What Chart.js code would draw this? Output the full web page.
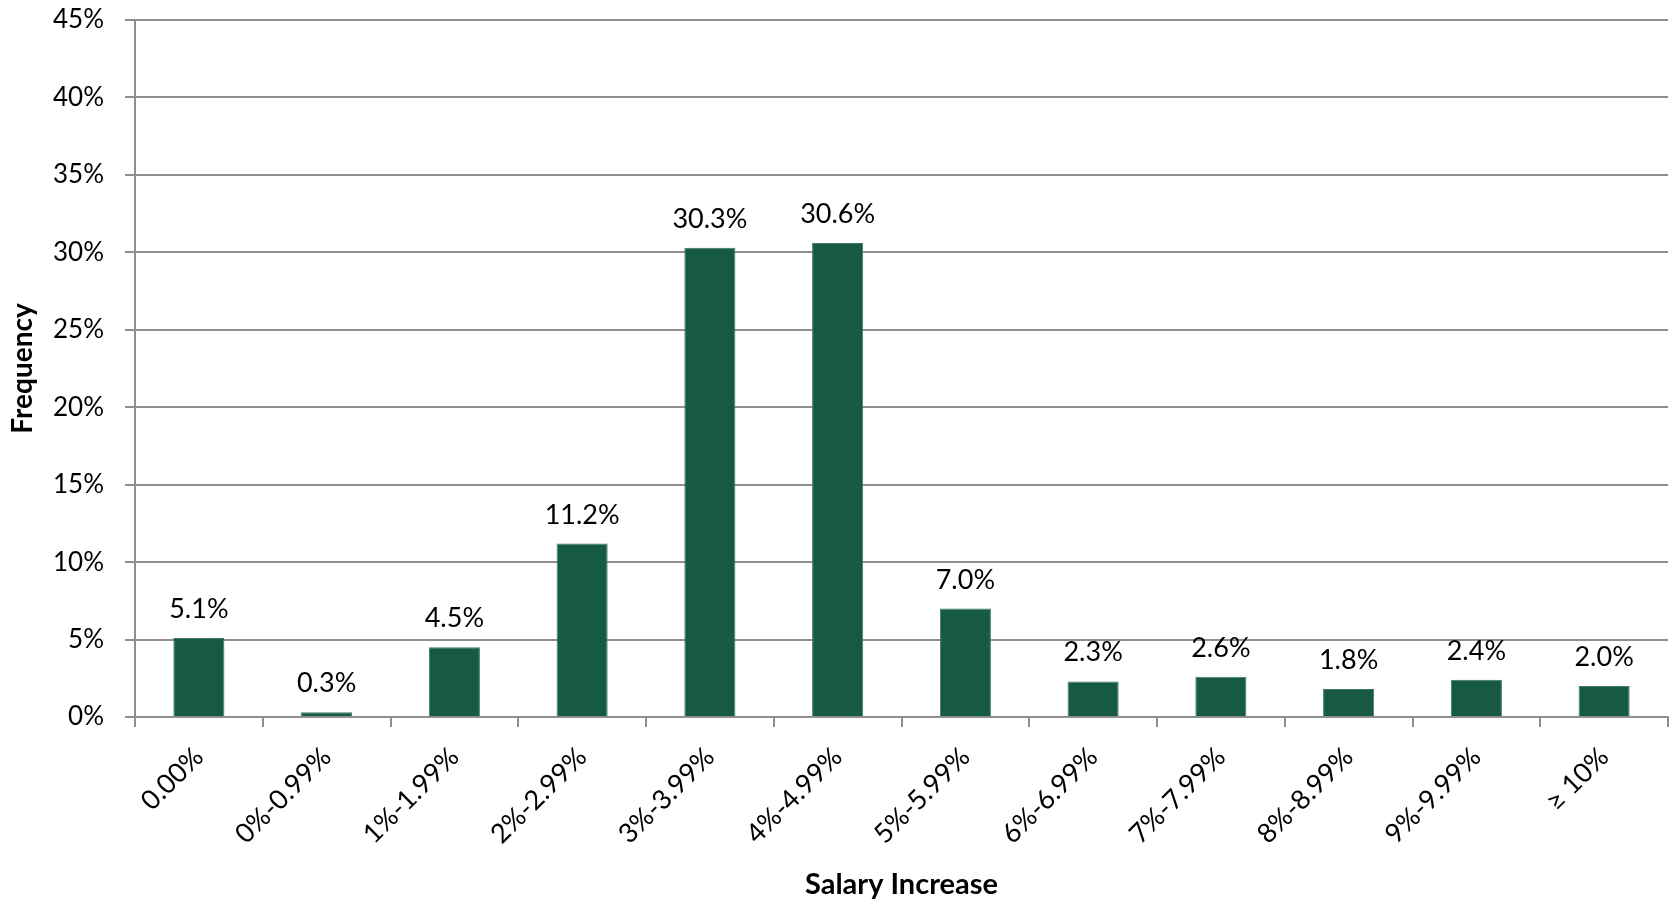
<!DOCTYPE html>
<html>
<head>
<meta charset="utf-8">
<script src="https://cdn.jsdelivr.net/npm/chart.js@4/dist/chart.umd.min.js"></script>
<style>
    html, body { margin: 0; padding: 0; background: #fff; }
    #wrap { width: 1673px; height: 902px; position: relative; }
</style>
</head>
<body>
<div id="wrap"><canvas id="chart"></canvas></div>
<script>
const categories = ['0.00%', '0%-0.99%', '1%-1.99%', '2%-2.99%', '3%-3.99%', '4%-4.99%',
    '5%-5.99%', '6%-6.99%', '7%-7.99%', '8%-8.99%', '9%-9.99%', '\u2265 10%'];
const frequency = [5.1, 0.3, 4.5, 11.2, 30.3, 30.6, 7.0, 2.3, 2.6, 1.8, 2.4, 2.0];
const yMax = 45;
const yStep = 5;

const FONT = 'Lato, "Open Sans", sans-serif';
const GRID = '#8f8f8f';

// value labels above each bar
const barLabels = {
    id: 'barLabels',
    afterDatasetsDraw(chart) {
        const ctx = chart.ctx;
        const meta = chart.getDatasetMeta(0);
        ctx.save();
        ctx.font = '27px ' + FONT;
        ctx.fillStyle = '#000';
        ctx.textAlign = 'center';
        ctx.textBaseline = 'alphabetic';
        meta.data.forEach((bar, i) => {
            ctx.fillText(frequency[i].toFixed(1) + '%', bar.x, bar.y - 20);
        });
        ctx.restore();
    }
};

new Chart(document.getElementById('chart'), {
    type: 'bar',
    data: {
        labels: categories,
        datasets: [{
            label: 'Frequency',
            data: frequency,
            backgroundColor: '#155a41',
            borderColor: '#3f7a62',
            borderWidth: 1,
            barPercentage: 0.4,
            categoryPercentage: 1.0
        }]
    },
    options: {
        responsive: true,
        maintainAspectRatio: false,
        animation: false,
        layout: { padding: { top: 20, right: 5, left: 0, bottom: 0 } },
        plugins: {
            legend: { display: false },
            tooltip: { enabled: false }
        },
        scales: {
            x: {
                offset: true,
                grid: {
                    offset: true,
                    drawOnChartArea: false,
                    drawTicks: true,
                    tickLength: 10,
                    color: GRID,
                    lineWidth: 2
                },
                border: { color: GRID, width: 2 },
                ticks: {
                    minRotation: 45,
                    maxRotation: 45,
                    padding: 14,
                    color: '#000',
                    font: { family: FONT, size: 27 }
                },
                title: {
                    display: true,
                    text: 'Salary Increase',
                    color: '#000',
                    font: { family: FONT, size: 29, weight: 'bold' },
                    padding: { top: 0, bottom: 0 }
                },
                afterFit(scale) {
                    scale.height = 185;
                    scale.paddingTop = 0;
                    scale.paddingBottom = 0;
                }
            },
            y: {
                min: 0,
                max: yMax,
                grid: {
                    color: GRID,
                    lineWidth: 2,
                    drawTicks: true,
                    tickLength: 10
                },
                border: { color: GRID, width: 2 },
                ticks: {
                    stepSize: yStep,
                    padding: 21,
                    color: '#000',
                    font: { family: FONT, size: 26 },
                    callback: v => v + '%'
                },
                title: {
                    display: true,
                    text: 'Frequency',
                    color: '#000',
                    font: { family: FONT, size: 28, weight: 'bold' },
                    padding: { top: 6, bottom: 0 }
                },
                afterFit(scale) {
                    scale.width = 135;
                    scale.paddingTop = 0;
                    scale.paddingBottom = 0;
                }
            }
        }
    },
    plugins: [barLabels]
});
</script>
</body>
</html>
